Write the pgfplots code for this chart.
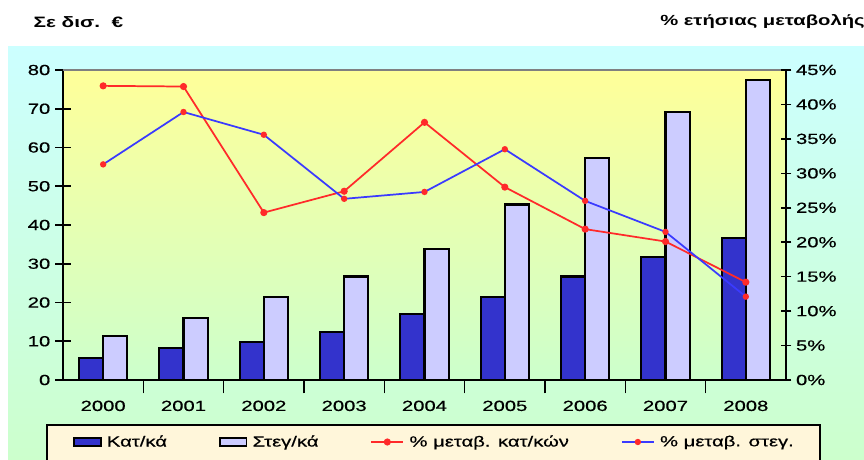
\documentclass[border=0pt]{standalone}
\usepackage{fontspec}
\setmainfont{Liberation Sans}[FakeStretch=1.38, UprightFeatures={FakeBold=0.6}]
\usepackage{pgfplots}
\usepackage{pgfplotstable}
\pgfplotsset{compat=1.18}
\definecolor{darkbar}{HTML}{3333CC}
\definecolor{lightbar}{HTML}{CCCCFF}
\definecolor{redl}{HTML}{FF2A2A}
\definecolor{bluel}{HTML}{3A3AFF}
\definecolor{plottop}{HTML}{FFFF99}
\definecolor{plotbot}{HTML}{CCFFCC}
\definecolor{outtop}{HTML}{CCFFFF}
\definecolor{outbot}{HTML}{CCFFCC}
\definecolor{legfill}{HTML}{FFF6DA}
\pgfplotsset{
  lineleg/.style={legend image code/.code={\draw[mark repeat=2,mark phase=2,##1] plot coordinates {(0pt,0pt) (12pt,0pt) (24pt,0pt)};}},
}
\pgfplotstableread{
x dark light pk ps
0 5.6 11.4 42.7 31.3
1 8.2 16.0 42.6 38.9
2 9.7 21.5 24.3 35.6
3 12.3 26.7 27.4 26.3
4 17.0 33.9 37.4 27.3
5 21.5 45.3 28.0 33.5
6 26.7 57.2 21.9 26.0
7 31.8 69.1 20.1 21.5
8 36.6 77.4 14.2 12.1
}\datatable
\begin{document}
\begin{tikzpicture}
\useasboundingbox (0,0) rectangle (648pt,345pt);
\fill[white] (0,0) rectangle (648pt,345pt);
\shade[top color=outtop, bottom color=outbot] (6pt,0pt) rectangle (648pt,309.75pt);
\node[anchor=west, inner sep=0pt, font=\fontsize{11.3}{13}\selectfont\bfseries] at (25pt,328.5pt) {Σε δισ.\ \ €};
\node[anchor=west, inner sep=0pt, font=\fontsize{11}{13}\selectfont\bfseries] at (495pt,328.5pt) {\% ετήσιας μεταβολής};
\draw[line width=1.5pt, fill=legfill] (35.25pt,-5pt) rectangle (615pt,26.25pt);
\begin{axis}[
  at={(47.25pt,60pt)}, anchor=south west,
  scale only axis, width=542.25pt, height=232.5pt,
  xmin=-0.5, xmax=8.5, ymin=0, ymax=80,
  axis x line*=bottom, axis y line*=left,
  axis line style={line width=1.5pt, black, -},
  axis background/.style={shade, top color=plottop, bottom color=plotbot},
  xtick={0,...,8}, xticklabels={2000,2001,2002,2003,2004,2005,2006,2007,2008},
  major x tick style={draw=none},
  minor xtick={0.5,1.5,...,7.5},
  minor x tick style={line width=1.2pt, black},
  minor tick length=10pt,
  ytick={0,10,...,80},
  major y tick style={line width=1.2pt, black},
  major tick length=12pt,
  tick align=center,
  /pgf/number format/assume math mode=true,
  ticklabel style={font=\fontsize{11}{13}\selectfont},
  ybar, bar width=0.3,
  after end axis/.code={\draw[gray, line width=1pt] (rel axis cs:0,1) -- (rel axis cs:1,1);},
]
\addplot[fill=darkbar, draw=black, line width=1.6pt, bar shift=-0.15] table[x=x,y=dark]{\datatable};
\addplot[fill=lightbar, draw=black, line width=1.6pt, bar shift=0.15] table[x=x,y=light]{\datatable};
\end{axis}
\begin{axis}[
  at={(47.25pt,60pt)}, anchor=south west,
  scale only axis, width=542.25pt, height=232.5pt,
  xmin=-0.5, xmax=8.5, ymin=0, ymax=45,
  axis y line*=right, axis x line=none,
  axis line style={line width=1.5pt, black, -},
  ytick={0,5,...,45},
  yticklabel={\pgfmathprintnumber{\tick}\%},
  major y tick style={line width=1.2pt, black},
  major tick length=8pt,
  tick align=center,
  /pgf/number format/assume math mode=true,
  ticklabel style={font=\fontsize{11}{13}\selectfont},
  legend style={at={(0.0138,-0.2)}, anchor=west, draw=none, fill=none, inner sep=0pt,
    legend columns=4, font=\fontsize{11}{13}\selectfont,
    /tikz/every odd column/.append style={column sep=2pt},
    /tikz/every even column/.append style={column sep=37pt}},
]
\addlegendimage{legend image code/.code={\draw[black,fill=darkbar,line width=1.2pt] (0pt,-3pt) rectangle (20pt,3pt);}}
\addlegendentry{Κατ/κά}
\addlegendimage{legend image code/.code={\draw[black,fill=lightbar,line width=1.2pt] (0pt,-3pt) rectangle (20pt,3pt);}}
\addlegendentry{Στεγ/κά}
\addplot[redl, line width=1.3pt, mark=*, mark size=2pt, mark options={fill=redl, draw=redl}, lineleg]
  table[x=x,y=pk]{\datatable};
\addlegendentry{\% μεταβ. κατ/κών}
\addplot[bluel, line width=1.3pt, mark=*, mark size=1.7pt, mark options={fill=redl, draw=redl}, lineleg]
  table[x=x,y=ps]{\datatable};
\addlegendentry{\% μεταβ. στεγ.}
\end{axis}
\end{tikzpicture}
\end{document}
